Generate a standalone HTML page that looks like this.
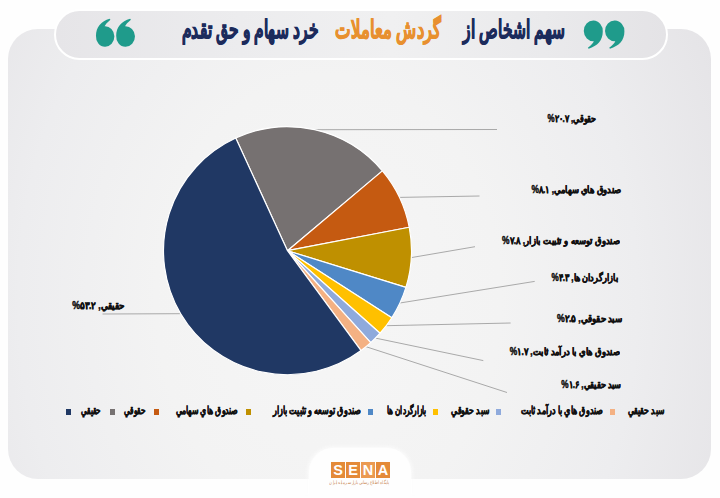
<!DOCTYPE html>
<html lang="fa">
<head>
<meta charset="utf-8">
<style>
html,body{margin:0;padding:0;}
body{width:720px;height:498px;position:relative;overflow:hidden;background:#fefefe;font-family:"Liberation Sans",sans-serif;}
.card{position:absolute;left:8px;top:29px;width:703px;height:450px;border-radius:30px;
  background:radial-gradient(ellipse 430px 560px at 320px 270px,#f6f6f6 0%,#f3f3f3 40%,#ededef 72%,#e5e4e7 100%);}
.notch{position:absolute;left:309px;top:448px;width:102px;height:70px;border-radius:24px;background:#fefefe;box-shadow:0 0 4px 1px rgba(254,254,254,0.9);}
.pill{position:absolute;left:54px;top:9px;width:610px;height:47px;border-radius:26px;background:linear-gradient(90deg,#e6e5e8 0%,#ececee 30%,#f0f0f1 55%,#eaeaec 80%,#e4e3e6 100%);border:2px solid #fff;}
.title{position:absolute;top:13.5px;white-space:nowrap;direction:rtl;font-weight:bold;font-size:25px;color:#1c2b5c;line-height:30px;-webkit-text-stroke:1px currentColor;transform-origin:100% 50%;}
.title.o{color:#e8902f;}
.lab{position:absolute;white-space:nowrap;direction:rtl;font-weight:bold;font-size:10px;color:#111;line-height:14px;-webkit-text-stroke:0.5px currentColor;transform-origin:100% 50%;}
.leg{position:absolute;top:403px;white-space:nowrap;direction:rtl;font-weight:bold;font-size:10.5px;color:#111;line-height:14px;-webkit-text-stroke:0.45px currentColor;transform-origin:100% 50%;}
.sq{position:absolute;top:409px;width:5px;height:5.5px;}
svg{position:absolute;left:0;top:0;}
.sena{position:absolute;top:462px;height:15.5px;width:14px;background:#e48a38;color:#fff;font-weight:bold;font-size:14.5px;line-height:16.5px;text-align:center;}
</style>
</head>
<body>
<div class="card"></div>
<div class="notch"></div>
<div class="pill"></div>
<svg width="720" height="498" viewBox="0 0 720 498">
  <g fill="#1f9b8b">
    <path transform="translate(114.4,46.85) rotate(180) scale(0.95,1)" d="M19.4,11C19.4,20 14,25.5 5,28.1L4.2,27.2C7.5,24.5 9.5,22.5 10.3,20.6A9.7,10.3 0 1 1 19.4,11Z"/>
    <path transform="translate(135,46.85) rotate(180) scale(0.97,1)" d="M19.4,11C19.4,20 14,25.5 5,28.1L4.2,27.2C7.5,24.5 9.5,22.5 10.3,20.6A9.7,10.3 0 1 1 19.4,11Z"/>
    <path transform="translate(583.75,20.6) scale(0.98,1)" d="M19.4,11C19.4,20 14,25.5 5,28.1L4.2,27.2C7.5,24.5 9.5,22.5 10.3,20.6A9.7,10.3 0 1 1 19.4,11Z"/>
    <path transform="translate(605,20.6)" d="M19.4,11C19.4,20 14,25.5 5,28.1L4.2,27.2C7.5,24.5 9.5,22.5 10.3,20.6A9.7,10.3 0 1 1 19.4,11Z"/>
  </g>
  <g stroke="#a9a9a9" stroke-width="1" fill="none">
<line x1="314.6" y1="129.7" x2="497" y2="129.5"/>
<line x1="399.4" y1="197.4" x2="479.5" y2="196"/>
<line x1="411.3" y1="257.6" x2="475" y2="246.7"/>
<line x1="399.9" y1="303.0" x2="534.7" y2="281.4"/>
<line x1="386.2" y1="325.7" x2="510.6" y2="323"/>
<line x1="375.5" y1="338.1" x2="483.3" y2="360.6"/>
<line x1="366.0" y1="346.7" x2="507" y2="392.5"/>
<line x1="180.7" y1="313.7" x2="102.5" y2="314"/>
  </g>
  <g stroke="#ffffff" stroke-width="1.2" stroke-linejoin="round">
<path d="M287.5,250.7L235.74,138.02A124,124 0 0 1 382.38,170.87Z" fill="#767171"/>
<path d="M287.5,250.7L382.38,170.87A124,124 0 0 1 409.27,227.28Z" fill="#C55A11"/>
<path d="M287.5,250.7L409.27,227.28A124,124 0 0 1 405.94,287.41Z" fill="#BF9000"/>
<path d="M287.5,250.7L405.94,287.41A124,124 0 0 1 391.83,317.72Z" fill="#4F88C6"/>
<path d="M287.5,250.7L391.83,317.72A124,124 0 0 1 380.05,333.23Z" fill="#FFC000"/>
<path d="M287.5,250.7L380.05,333.23A124,124 0 0 1 370.71,342.64Z" fill="#8FAADC"/>
<path d="M287.5,250.7L370.71,342.64A124,124 0 0 1 361.05,350.53Z" fill="#F4B183"/>
<path d="M287.5,250.7L361.05,350.53A124,124 0 1 1 235.74,138.02Z" fill="#203864"/>
  </g>
</svg>
<div class="title" id="t1a" style="right:155.47px;transform:scaleX(0.6155);">سهم اشخاص از</div>
<div class="title o" id="t1b" style="right:279.40px;transform:scaleX(0.6593);">گردش معاملات</div>
<div class="title" id="t1c" style="right:402.68px;transform:scaleX(0.6167);">خرد سهام و حق تقدم</div>
<div class="lab" id="l1" style="right:124.00px;transform:scaleX(0.7945);top:112px">حقوقي, <span dir="ltr">%۲۰.۷</span></div>
<div class="lab" id="l2" style="right:99.16px;transform:scaleX(0.8370);top:183.3px">صندوق هاي سهامي, <span dir="ltr">%۸.۱</span></div>
<div class="lab" id="l3" style="right:101.16px;transform:scaleX(0.8415);top:234px">صندوق توسعه و تثبيت بازار,  <span dir="ltr">%۷.۸</span></div>
<div class="lab" id="l4" style="right:102.00px;transform:scaleX(0.8125);top:270.5px">بازارگردان ها,  <span dir="ltr">%۴.۳</span></div>
<div class="lab" id="l5" style="right:98.00px;transform:scaleX(0.8667);top:312px">سبد حقوقي, <span dir="ltr">%۲.۵</span></div>
<div class="lab" id="l6" style="right:100.56px;transform:scaleX(0.8405);top:345px">صندوق هاي با درآمد ثابت, <span dir="ltr">%۱.۷</span></div>
<div class="lab" id="l7" style="right:99.40px;transform:scaleX(0.8182);top:378px">سبد حقيقي, <span dir="ltr">%۱.۶</span></div>
<div class="lab" id="l8" style="right:596.10px;transform:scaleX(0.8761);top:298.5px">حقيقي, <span dir="ltr">%۵۳.۲</span></div>
<div class="sq" style="left:65.8px;background:#203864"></div>
<div class="leg" id="g1" style="right:619.35px;transform:scaleX(0.6500);">حقيقي</div>
<div class="sq" style="left:110.0px;background:#767171"></div>
<div class="leg" id="g2" style="right:574.34px;transform:scaleX(0.6575);">حقوقي</div>
<div class="sq" style="left:153.5px;background:#C55A11"></div>
<div class="leg" id="g3" style="right:481.79px;transform:scaleX(0.7095);">صندوق هاي سهامي</div>
<div class="sq" style="left:246.3px;background:#BF9000"></div>
<div class="leg" id="g4" style="right:359.27px;transform:scaleX(0.7292);">صندوق توسعه و تثبيت بازار</div>
<div class="sq" style="left:367.5px;background:#4F88C6"></div>
<div class="leg" id="g5" style="right:294.20px;transform:scaleX(0.6690);">بازارگردان ها</div>
<div class="sq" style="left:433.3px;background:#FFC000"></div>
<div class="leg" id="g6" style="right:231.30px;transform:scaleX(0.6984);">سبد حقوقي</div>
<div class="sq" style="left:495.8px;background:#8FAADC"></div>
<div class="leg" id="g7" style="right:117.57px;transform:scaleX(0.7265);">صندوق هاي با درآمد ثابت</div>
<div class="sq" style="left:609.7px;background:#F4B183"></div>
<div class="leg" id="g8" style="right:56.00px;transform:scaleX(0.6984);">سبد حقيقي</div>
<div class="sena" style="left:331px">S</div>
<div class="sena" style="left:346px">E</div>
<div class="sena" style="left:361px;background:#eb9a52">N</div>
<div class="sena" style="left:376px">A</div>
<div id="cap" style="position:absolute;right:331.00px;transform:scaleX(0.7733); top:479px;white-space:nowrap;direction:rtl;font-size:5px;line-height:6px;color:#c98a55;transform-origin:100% 50%;">پایگاه اطلاع رسانی بازار سرمایه ایران</div>
</body>
</html>
